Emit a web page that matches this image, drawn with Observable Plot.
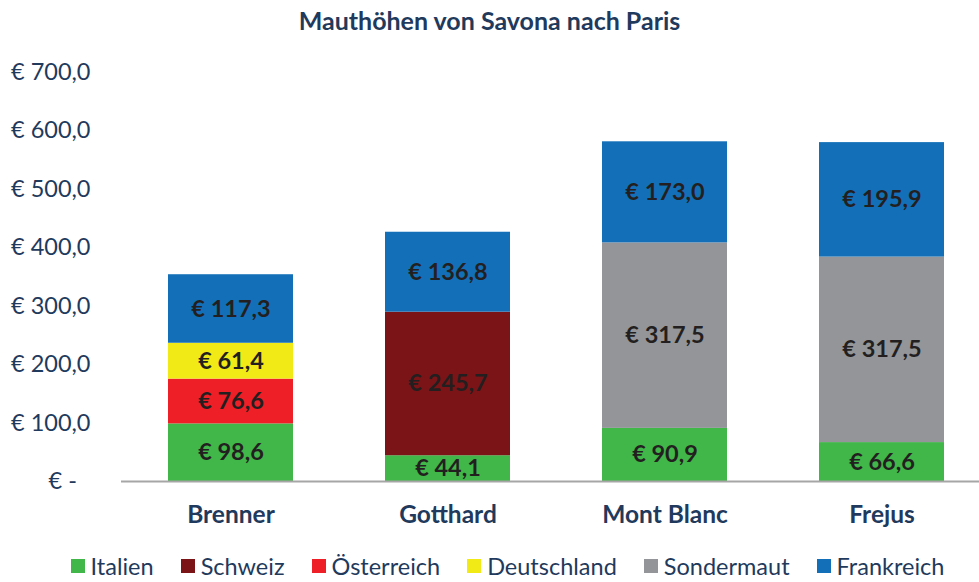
<!DOCTYPE html>
<html><head><meta charset="utf-8">
<script src="https://cdn.jsdelivr.net/npm/d3@7"></script>
<script src="https://cdn.jsdelivr.net/npm/@observablehq/plot@0.6"></script>
<style>
body{margin:0;background:#fff;font-family:Lato,"Open Sans",sans-serif;width:979px;height:582px;overflow:hidden;position:relative}
#title{height:42px;line-height:40px;text-align:center;font-weight:bold;font-size:25px;color:#1F3A5C}
#legend{position:absolute;left:18px;width:979px;top:552px;height:28px;display:flex;justify-content:center}
.lg-swatches{justify-content:center;margin:0 !important;min-height:0 !important;line-height:normal !important}
.lg-swatch{margin-right:27px !important;line-height:normal !important}
.lg-swatch:last-child{margin-right:0 !important}
.lg-swatch svg{margin-right:6px !important}
</style></head><body>
<div id="title">Mauthöhen von Savona nach Paris</div>
<div id="chart"></div>
<div id="legend"></div>
<script>
const routes = ["Brenner", "Gotthard", "Mont Blanc", "Frejus"];
const countries = ["Italien", "Schweiz", "Österreich", "Deutschland", "Sondermaut", "Frankreich"];
const colors = ["#41B649", "#7B1416", "#EE1F26", "#F2EA17", "#939598", "#1370B8"];
const italien = [98.6, 44.1, 90.9, 66.6];
const schweiz = [0, 245.7, 0, 0];
const oesterreich = [76.6, 0, 0, 0];
const deutschland = [61.4, 0, 0, 0];
const sondermaut = [0, 0, 317.5, 317.5];
const frankreich = [117.3, 136.8, 173.0, 195.9];
const yTicks = [0, 100, 200, 300, 400, 500, 600, 700];

const series = [italien, schweiz, oesterreich, deutschland, sondermaut, frankreich];
const data = [];
routes.forEach((r, i) => {
  countries.forEach((c, j) => {
    const v = series[j][i];
    if (v > 0) data.push({route: r, country: c, value: v});
  });
});
const fmt = v => "€ " + v.toFixed(1).replace(".", ",");
const navy = "#1F3A5C";

const chart = Plot.plot({
  width: 979,
  height: 500,
  marginLeft: 121,
  marginRight: 0,
  marginTop: 30,
  marginBottom: 61,
  style: {fontFamily: "Lato, 'Open Sans', sans-serif", background: "#fff", overflow: "visible"},
  x: {domain: routes, range: [121, 990], paddingInner: 0.425, paddingOuter: 0.212, align: 0.5},
  y: {domain: [0, 700], range: [439, 30]},
  color: {domain: countries, range: colors},
  marks: [
    Plot.barY(data, Plot.stackY({x: "route", y: "value", z: "country", order: countries, fill: "country", inset: 0})),
    Plot.ruleY([0], {stroke: "#A6A6A6", strokeWidth: 2}),
    Plot.text(data, Plot.stackY({x: "route", y: "value", z: "country", order: countries, text: d => fmt(d.value),
      fill: "#231F20", fontSize: 23.5, fontWeight: "bold"})),
    Plot.axisY({ticks: yTicks, tickSize: 0, tickPadding: 31, fontSize: 23.5, fill: navy, label: null,
      tickFormat: v => v === 0 ? "€ -\u2007" : fmt(v)}),
    Plot.axisX({tickSize: 0, tickPadding: 24, fontSize: 24.5, fontWeight: "bold", fill: navy, label: null})
  ]
});
document.getElementById("chart").appendChild(chart);

const lg = Plot.legend({
  color: {domain: countries, range: colors},
  legend: "swatches",
  swatchSize: 14,
  className: "lg",
  style: {fontSize: "23.5px", color: navy, fontFamily: "Lato, 'Open Sans', sans-serif"}
});
document.getElementById("legend").appendChild(lg);
</script>
</body></html>
